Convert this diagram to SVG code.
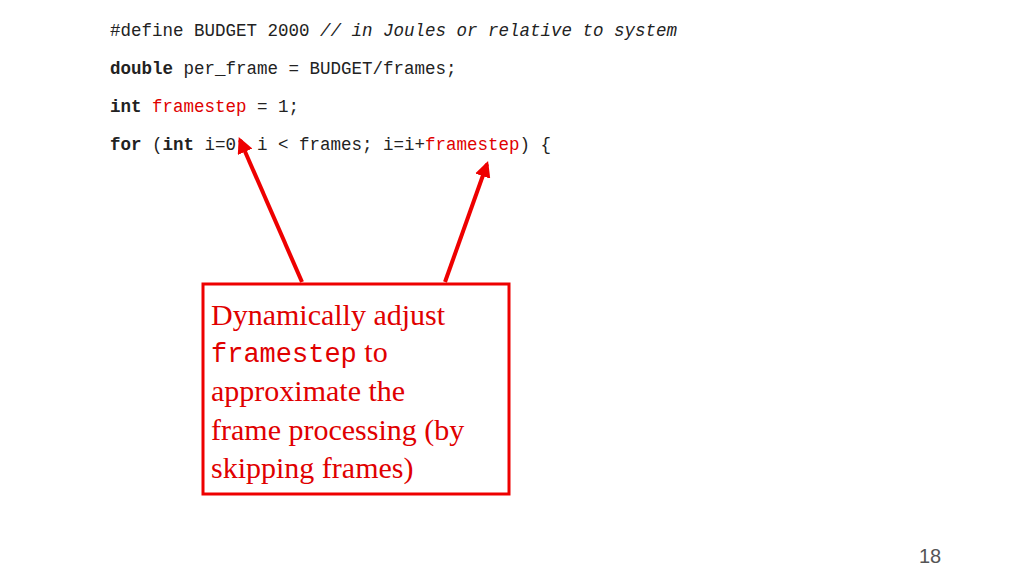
<svg xmlns="http://www.w3.org/2000/svg" width="1024" height="576" viewBox="0 0 1024 576">
<style>
.c{font-family:"Liberation Mono","DejaVu Sans Mono",monospace;font-size:17.5px;fill:#222}
.b{font-weight:bold}
.r{fill:#e00000}
.s{font-family:"Liberation Serif",serif;font-size:30px;fill:#e00000}
</style>
<defs><marker id="a" viewBox="0 0 10 10" refX="8" refY="5" markerWidth="4" markerHeight="4" orient="auto"><path d="M0,0L10,5L0,10z" fill="#ee0000"/></marker></defs>
<rect width="1024" height="576" fill="#fff"/>
<g id="code">
<text class="c" x="110" y="36" xml:space="preserve">#define BUDGET 2000 <tspan font-style="italic">// in Joules or relative to system</tspan></text>
<text class="c" x="110" y="74" xml:space="preserve"><tspan class="b">double</tspan> per_frame = BUDGET/frames;</text>
<text class="c" x="110" y="112" xml:space="preserve"><tspan class="b">int</tspan> <tspan class="r">framestep</tspan> = 1;</text>
<text class="c" x="110" y="150" xml:space="preserve"><tspan class="b">for</tspan> (<tspan class="b">int</tspan> i=0; i &lt; frames; i=i+<tspan class="r">framestep</tspan>) {</text>
</g>
<g id="connectors" stroke="#ee0000" stroke-width="4" fill="none">
<line x1="302" y1="282" x2="240" y2="140" marker-end="url(#a)"/>
<line x1="445" y1="282" x2="487" y2="164" marker-end="url(#a)"/>
</g>
<g id="note">
<rect x="203" y="284" width="306" height="210" fill="#fff" stroke="#ee0000" stroke-width="3"/>
<text class="s" x="211" y="325">Dynamically adjust</text>
<text class="s" x="211" y="362"><tspan font-family="Liberation Mono,monospace" font-size="27">framestep</tspan> to</text>
<text class="s" x="211" y="401">approximate the</text>
<text class="s" x="211" y="440">frame processing (by</text>
<text class="s" x="211" y="478">skipping frames)</text>
</g>
<text x="930" y="563" font-family="Liberation Sans,sans-serif" font-size="20" fill="#555" text-anchor="middle">18</text>
</svg>
